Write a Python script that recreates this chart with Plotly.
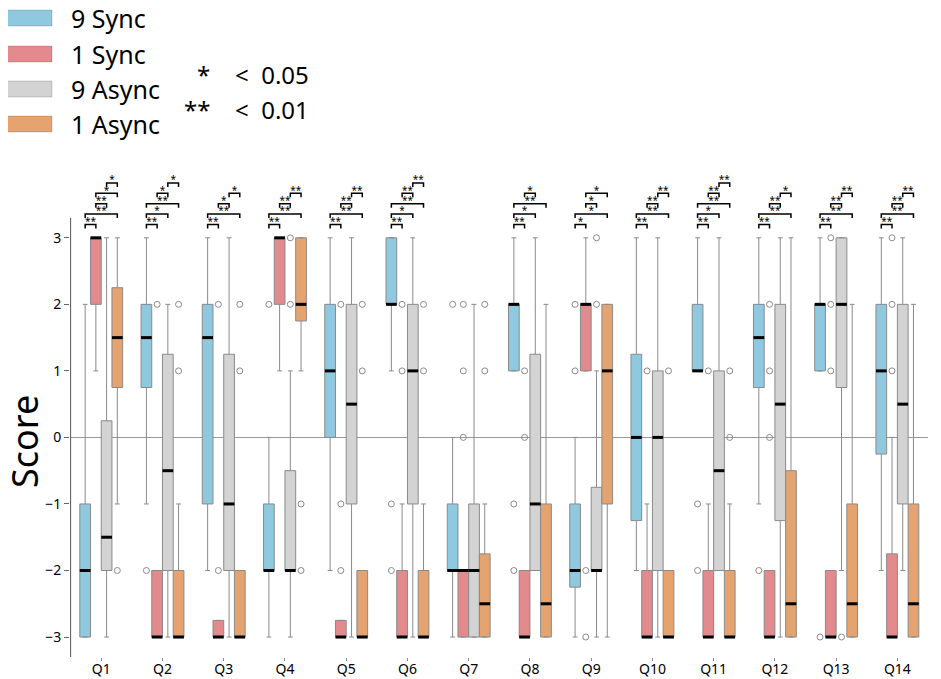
import plotly.graph_objects as go

# ---------------------------------------------------------------- data
questions = ["Q1", "Q2", "Q3", "Q4", "Q5", "Q6", "Q7",
             "Q8", "Q9", "Q10", "Q11", "Q12", "Q13", "Q14"]

group_names = ["9 Sync", "1 Sync", "9 Async", "1 Async"]
group_colors = ["#8fc9df", "#e38a8e", "#d3d3d3", "#e5a46f"]

# 9 Sync
sync9_q1 = [-3, 0.75, -1, -2, 0, 2, -2, 1, -2.25, -1.25, 1, 0.75, 1, -0.25]
sync9_median = [-2, 1.5, 1.5, -2, 1, 2, -2, 2, -2, 0, 1, 1.5, 2, 1]
sync9_q3 = [-1, 2, 2, -1, 2, 3, -1, 2, -1, 1.25, 2, 2, 2, 2]
sync9_low = [-3, -1, -2, -3, -2, 1, -3, 1, -3, -2, 1, -1, 1, -2]
sync9_high = [2, 3, 3, 0, 3, 3, 0, 3, 0, 3, 3, 3, 3, 3]
sync9_out = [[], [-2], [], [2], [], [-1, -2], [2], [-1, -2], [2, 1], [],
             [-1, -2], [-2], [-3], []]

# 1 Sync
sync1_q1 = [2, -3, -3, 2, -3, -3, -3, -3, 1, -3, -3, -3, -3, -3]
sync1_median = [3, -3, -3, 3, -3, -3, -2, -3, 2, -3, -3, -3, -3, -3]
sync1_q3 = [3, -2, -2.75, 3, -2.75, -2, -2, -2, 2, -2, -2, -2, -2, -1.75]
sync1_low = [1, -3, -3, 1, -3, -3, -3, -3, 1, -3, -3, -3, -3, -3]
sync1_high = [3, -2, -2.75, 3, -2.75, -1, -2, -2, 3, -1, -1, -2, -2, 0]
sync1_out = [[], [2], [2, -2], [], [2, -1, -2], [2, 1], [2, 1, 0], [1, 0],
             [-2, -3], [1], [1], [2, 1, 0], [3, 2, 1], [3, 2, 1]]

# 9 Async
async9_q1 = [-2, -2, -2, -2, -1, -1, -3, -2, -2, -2, -2, -1.25, 0.75, -1]
async9_median = [-1.5, -0.5, -1, -2, 0.5, 1, -2, -1, -2, 0, -0.5, 0.5, 2, 0.5]
async9_q3 = [0.25, 1.25, 1.25, -0.5, 2, 2, -1, 1.25, -0.75, 1, 1, 2, 3, 2]
async9_low = [-3, -3, -3, -3, -3, -3, -3, -2, -3, -3, -2, -3, -2, -2]
async9_high = [3, 2, 3, 1, 3, 3, 2, 3, 1, 3, 3, 3, 3, 3]
async9_out = [[], [], [], [3, 2], [], [], [], [], [3, 2], [], [], [], [-3], []]

# 1 Async
async1_q1 = [0.75, -3, -3, 1.75, -3, -3, -3, -3, -1, -3, -3, -3, -3, -3]
async1_median = [1.5, -3, -3, 2, -3, -3, -2.5, -2.5, 1, -3, -3, -2.5, -2.5, -2.5]
async1_q3 = [2.25, -2, -2, 3, -2, -2, -1.75, -1, 2, -2, -2, -0.5, -1, -1]
async1_low = [-1, -3, -3, 1, -3, -3, -3, -3, -3, -3, -3, -3, -3, -3]
async1_high = [3, -1, -2, 3, -2, -1, -1, 2, 2, -2, -1, 3, 2, 2]
async1_out = [[-2], [2, 1], [2, 1], [-1, -2], [2, 1], [2, 1], [2, 1], [], [],
              [1], [1, 0], [], [], []]

# significance brackets: (group a, group b, stars), bottom to top
sig_pairs = [
    [(0, 1, "**"), (0, 3, "**"), (1, 2, "**"), (1, 3, "*"), (2, 3, "*")],
    [(0, 1, "**"), (0, 2, "*"), (0, 3, "**"), (1, 2, "*"), (2, 3, "*")],
    [(0, 1, "**"), (0, 3, "**"), (1, 2, "*"), (2, 3, "*")],
    [(0, 1, "**"), (0, 3, "**"), (1, 2, "**"), (2, 3, "**")],
    [(0, 1, "**"), (0, 3, "**"), (1, 2, "**"), (2, 3, "**")],
    [(0, 1, "**"), (0, 2, "*"), (0, 3, "**"), (1, 2, "**"), (2, 3, "**")],
    [],
    [(0, 1, "**"), (0, 2, "*"), (0, 3, "**"), (1, 2, "*")],
    [(0, 1, "*"), (0, 3, "*"), (1, 2, "*"), (1, 3, "*")],
    [(0, 1, "**"), (0, 3, "**"), (1, 2, "**"), (2, 3, "**")],
    [(0, 1, "**"), (0, 2, "*"), (0, 3, "**"), (1, 2, "**"), (2, 3, "**")],
    [(0, 1, "**"), (0, 3, "**"), (1, 2, "**"), (2, 3, "*")],
    [(0, 1, "**"), (0, 3, "**"), (1, 2, "**"), (2, 3, "**")],
    [(0, 1, "**"), (0, 3, "**"), (1, 2, "**"), (2, 3, "**")],
]

groups = [
    (sync9_q1, sync9_median, sync9_q3, sync9_low, sync9_high, sync9_out),
    (sync1_q1, sync1_median, sync1_q3, sync1_low, sync1_high, sync1_out),
    (async9_q1, async9_median, async9_q3, async9_low, async9_high, async9_out),
    (async1_q1, async1_median, async1_q3, async1_low, async1_high, async1_out),
]

# ---------------------------------------------------------------- figure
FONT = "Noto Sans"
EDGE = "#8a8a8a"
centers = list(range(1, len(questions) + 1))
offsets = [-0.2625, -0.0875, 0.0875, 0.2625]
box_w = 0.175

fig = go.Figure()

for g, (q1, med, q3, low, high, out) in enumerate(groups):
    xpos = [c + offsets[g] for c in centers]
    fig.add_trace(go.Box(
        x=xpos, q1=q1, median=med, q3=q3, lowerfence=low, upperfence=high,
        orientation="v", width=box_w, whiskerwidth=0.45,
        fillcolor=group_colors[g], line=dict(color=EDGE, width=1),
        boxpoints=False, showlegend=False, hoverinfo="skip",
    ))

    # black median bars
    mx, my = [], []
    for c, m in zip(xpos, med):
        mx += [c - box_w / 2, c + box_w / 2, None]
        my += [m, m, None]
    fig.add_trace(go.Scatter(x=mx, y=my, mode="lines",
                             line=dict(color="black", width=3),
                             showlegend=False, hoverinfo="skip"))

    # outliers
    ox, oy = [], []
    for c, pts in zip(xpos, out):
        for p in pts:
            ox.append(c)
            oy.append(p)
    fig.add_trace(go.Scatter(x=ox, y=oy, mode="markers",
                             marker=dict(symbol="circle-open", size=6,
                                         color=EDGE, line=dict(width=1)),
                             showlegend=False, hoverinfo="skip"))

# significance brackets
base, step, leg = 3.2, 0.156, 0.06
bx, by, sx, sy, st = [], [], [], [], []
for qi, pairs in enumerate(sig_pairs):
    for k, (a, b, stars) in enumerate(pairs):
        lvl = base + step * k
        x0 = centers[qi] + offsets[a]
        x1 = centers[qi] + offsets[b]
        bx += [x0, x0, x1, x1, None]
        by += [lvl - leg, lvl, lvl, lvl - leg, None]
        sx.append((x0 + x1) / 2)
        sy.append(lvl + 0.035)
        st.append(stars)
fig.add_trace(go.Scatter(x=bx, y=by, mode="lines",
                         line=dict(color="black", width=1.5),
                         showlegend=False, hoverinfo="skip"))
fig.add_trace(go.Scatter(x=sx, y=sy, mode="text", text=st,
                         textposition="middle center",
                         textfont=dict(family=FONT, size=10, color="black"),
                         showlegend=False, hoverinfo="skip"))

# left axis line, only over the score range
fig.add_trace(go.Scatter(x=[0.5, 0.5], y=[-3.3, 3.3], mode="lines",
                         line=dict(color="#555555", width=1),
                         showlegend=False, hoverinfo="skip"))

# ---------------------------------------------------------------- legend
# helpers: screen pixel -> paper coords (page has an 8px body margin)
def px_x(px):
    return (px - 70) / 858

def px_y(py):
    return (657 - py) / 519

row_y = [18, 54, 89, 124]
for name, col, ry in zip(group_names, group_colors, row_y):
    fig.add_shape(type="rect", xref="paper", yref="paper",
                  x0=px_x(4), x1=px_x(52), y0=px_y(ry + 8), y1=px_y(ry - 8),
                  fillcolor=col, line=dict(color="rgba(0,0,0,0.15)", width=1))
    fig.add_annotation(xref="paper", yref="paper", x=px_x(69), y=px_y(ry),
                       text=name, showarrow=False, xanchor="left",
                       yanchor="middle", font=dict(family=FONT, size=25, color="black"))

for stars, label, ry in [("*", "<  0.05", 74), ("**", "<  0.01", 110)]:
    fig.add_annotation(xref="paper", yref="paper", x=px_x(212), y=px_y(ry),
                       text=stars, showarrow=False, xanchor="right",
                       yanchor="middle", font=dict(family=FONT, size=24, color="black"))
    fig.add_annotation(xref="paper", yref="paper", x=px_x(233), y=px_y(ry),
                       text=label, showarrow=False, xanchor="left",
                       yanchor="middle", font=dict(family=FONT, size=24, color="black"))

fig.add_annotation(xref="paper", yref="paper", x=px_x(24), y=px_y(442),
                   text="Score", showarrow=False, textangle=-90,
                   xanchor="center", yanchor="middle",
                   font=dict(family=FONT, size=36, color="black"))

fig.update_layout(
    width=933, height=671,
    margin=dict(l=62, r=13, t=130, b=22),
    plot_bgcolor="white", paper_bgcolor="white",
    font=dict(family=FONT, color="black"),
    boxmode="overlay",
    xaxis=dict(range=[0.49, 14.5], tickvals=centers, ticktext=questions,
               showgrid=False, zeroline=False, showline=False,
               ticks="outside", ticklen=3, tickcolor="#888888",
               tickfont=dict(size=14), automargin=False,
               ticklabelstandoff=-4),
    yaxis=dict(range=[-3.3, 4.5], tickvals=[-3, -2, -1, 0, 1, 2, 3],
               showgrid=False, zeroline=True, zerolinecolor="#999999",
               zerolinewidth=1, showline=False, ticks="outside", ticklen=5,
               tickcolor="#666666", tickfont=dict(size=14), automargin=False),
)

fig.write_html("out.html")
